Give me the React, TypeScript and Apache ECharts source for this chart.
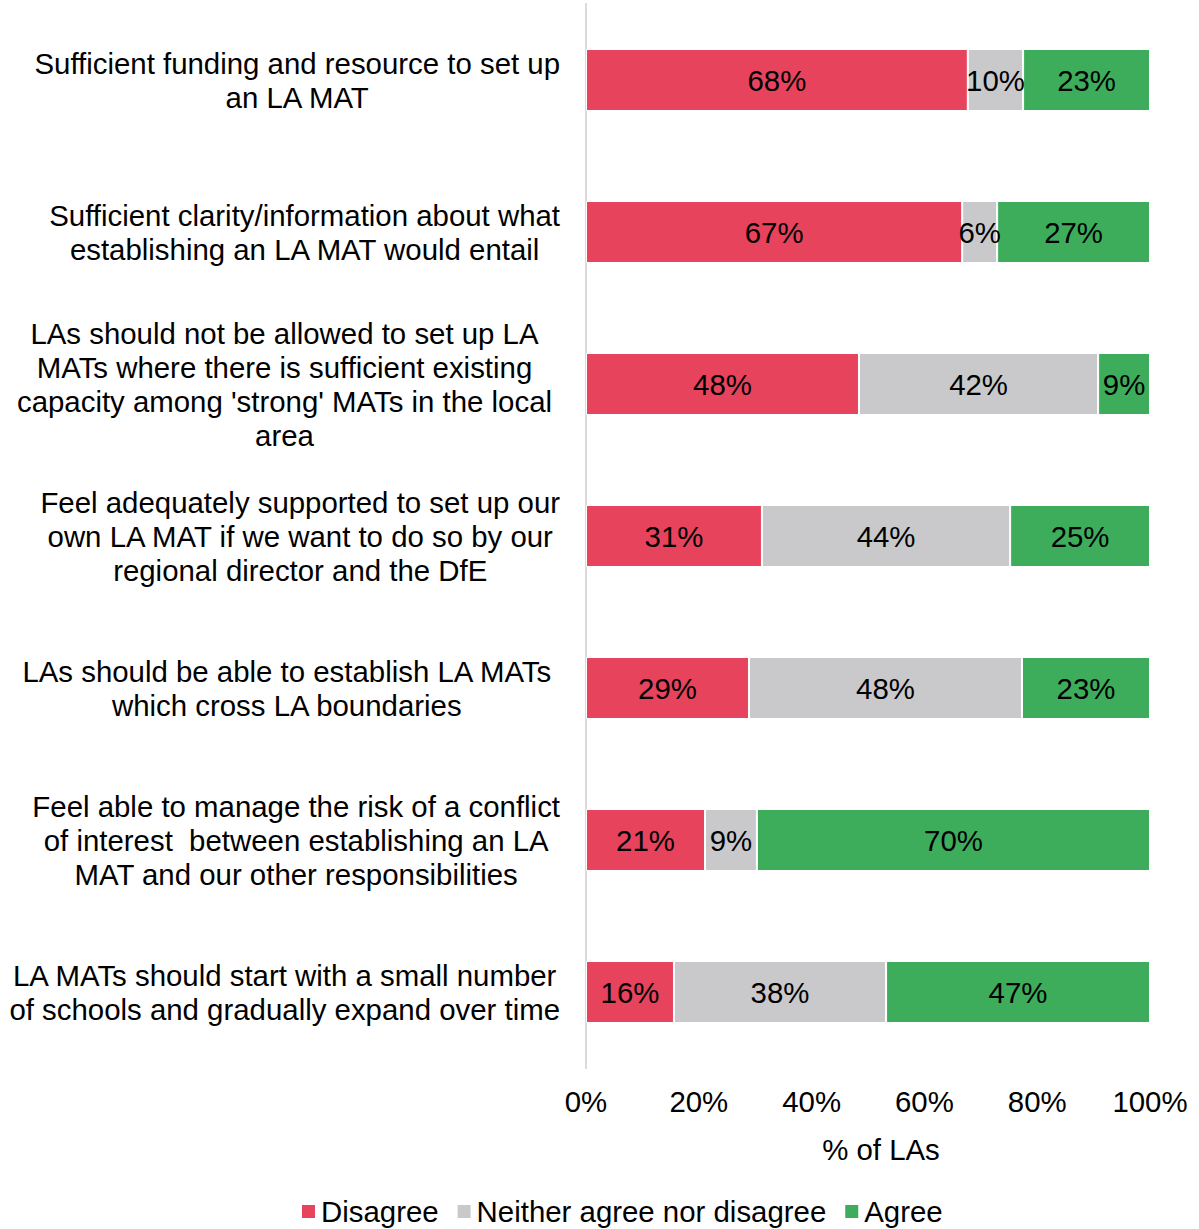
import React, { useEffect, useRef } from "react";
import * as echarts from "echarts";

const categories: string[] = [
  "Sufficient funding and resource to set up\nan LA MAT",
  "Sufficient clarity/information about what\nestablishing an LA MAT would entail",
  "LAs should not be allowed to set up LA\nMATs where there is sufficient existing\ncapacity among 'strong' MATs in the local\narea",
  "Feel adequately supported to set up our\nown LA MAT if we want to do so by our\nregional director and the DfE",
  "LAs should be able to establish LA MATs\nwhich cross LA boundaries",
  "Feel able to manage the risk of a conflict\nof interest  between establishing an LA\nMAT and our other responsibilities",
  "LA MATs should start with a small number\nof schools and gradually expand over time",
];

const seriesNames: string[] = ["Disagree", "Neither agree nor disagree", "Agree"];
const disagree: number[] = [67.7, 66.7, 48.4, 31.2, 28.9, 21.1, 15.6];
const neither: number[] = [9.8, 6.2, 42.4, 44.0, 48.4, 9.2, 37.6];
const agree: number[] = [22.5, 27.1, 9.2, 24.8, 22.7, 69.7, 46.8];
const xTicks: number[] = [0, 20, 40, 60, 80, 100];

// style: which category labels wrap narrower (right inset, like the source)
const insetLabels: number[] = [2, 4];

const colors = ["#E8435D", "#C9C9CB", "#3DAD5C"];
const FONT = "'Liberation Sans', Arial, sans-serif";
const FS = 29.4;

export default function App() {
  const ref = useRef<HTMLDivElement>(null);
  useEffect(() => {
    if (!ref.current) return;
    const chart = echarts.init(ref.current, undefined, { renderer: "svg" });
    const values = [disagree, neither, agree];
    const richBase = {
      align: "center",
      fontSize: FS,
      lineHeight: 34,
      color: "#000",
      fontFamily: FONT,
    };
    const option: any = {
      animation: false,
      backgroundColor: "#fff",
      textStyle: { fontFamily: FONT },
      grid: { left: 586, right: 49, top: 4, bottom: 161, containLabel: false },
      legend: {
        left: 300,
        top: 1197,
        padding: 0,
        icon: "rect",
        itemWidth: 15,
        itemHeight: 15,
        itemGap: 17,
        data: seriesNames,
        textStyle: { fontSize: FS, color: "#000", fontFamily: FONT },
      },
      xAxis: {
        type: "value",
        min: xTicks[0],
        max: xTicks[xTicks.length - 1],
        interval: 20,
        axisLine: { show: false },
        axisTick: { show: false },
        splitLine: { show: false },
        axisLabel: {
          formatter: "{value}%",
          fontSize: FS,
          color: "#000",
          fontFamily: FONT,
          margin: 19,
        },
        name: "% of LAs",
        nameLocation: "middle",
        nameGap: 67,
        nameTextStyle: {
          fontSize: FS,
          color: "#000",
          fontFamily: FONT,
          padding: [0, 0, 0, 26],
        },
      },
      yAxis: {
        type: "category",
        inverse: true,
        data: categories,
        axisLine: { show: true, lineStyle: { color: "#D9D9D9", width: 2 } },
        axisTick: { show: false },
        axisLabel: {
          margin: 26,
          align: "right",
          formatter: (v: string, idx: number) => {
            const st = insetLabels.indexOf(idx) >= 0 ? "p" : "c";
            return v
              .split("\n")
              .map((l) => `{${st}|${l}}`)
              .join("\n");
          },
          rich: {
            c: { ...richBase },
            p: { ...richBase, padding: [0, 8, 0, 0] },
          },
        },
      },
      series: seriesNames.map((name, i) => ({
        name,
        type: "bar",
        stack: "total",
        barWidth: 62,
        data: values[i],
        itemStyle: { color: colors[i], borderColor: "#fff", borderWidth: 1 },
        label: {
          show: true,
          position: "inside",
          color: "#000",
          fontSize: FS,
          fontFamily: FONT,
          formatter: (p: any) => `${Math.round(p.value)}%`,
        },
      })),
    };
    chart.setOption(option);
    return () => chart.dispose();
  }, []);
  return (
    <div
      ref={ref}
      style={{ position: "fixed", left: 0, top: 0, width: 1199, height: 1229, background: "#fff" }}
    />
  );
}
